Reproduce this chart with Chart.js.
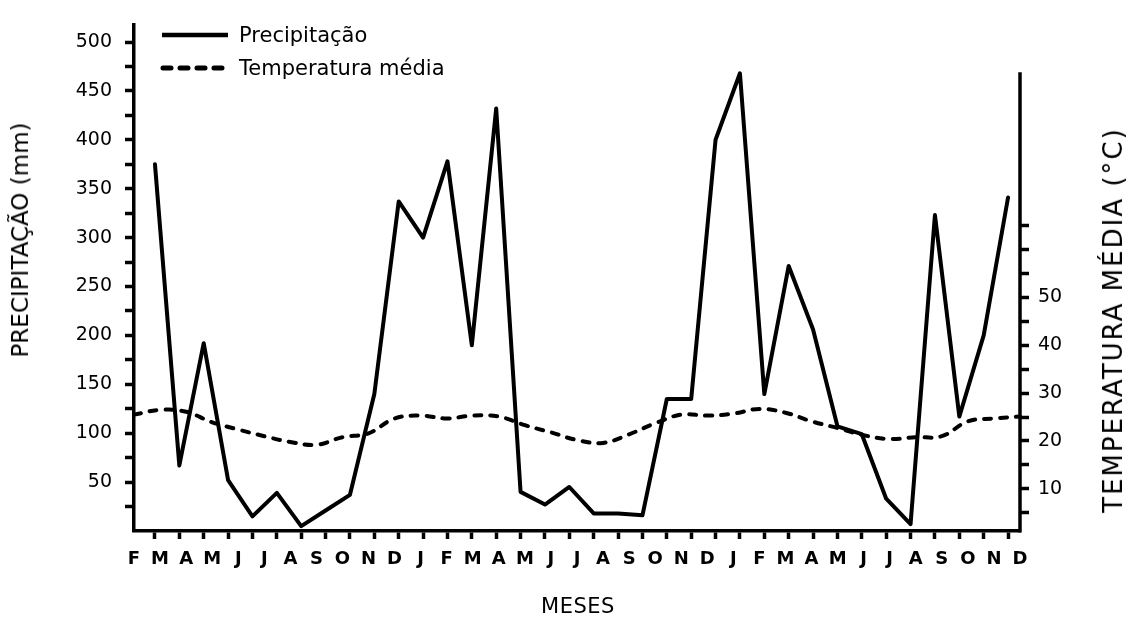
<!DOCTYPE html>
<html lang="pt">
<head>
<meta charset="utf-8">
<title>Precipitação e temperatura média</title>
<script src="https://cdn.jsdelivr.net/npm/chart.js@4.4.1/dist/chart.umd.min.js"></script>
<style>
    html, body { margin: 0; padding: 0; background: #fff; }
    #wrap { position: relative; width: 1128px; height: 617px; font-family: "DejaVu Sans", sans-serif; color: #000; }
    #chart { position: absolute; left: 0; top: 0; }
    .legend { position: absolute; left: 160px; height: 30px; display: flex; align-items: center; font-size: 21px; white-space: nowrap; }
    .legend svg { margin-right: 9px; }
    .ytitle { position: absolute; white-space: nowrap; transform: translate(-50%, -50%) rotate(-90deg); }
    #xtitle { position: absolute; left: 578px; top: 606px; transform: translate(-50%, -50%); font-size: 21px; letter-spacing: 0.5px; }
</style>
</head>
<body>
<div id="wrap">
    <canvas id="chart" width="1128" height="617"></canvas>
    <div class="legend" style="top:20px"><svg width="70" height="10"><line x1="2" y1="5" x2="68" y2="5" stroke="#000" stroke-width="4.5"/></svg><span id="leg0"></span></div>
    <div class="legend" style="top:53px"><svg width="70" height="10"><line x1="3" y1="5" x2="68" y2="5" stroke="#000" stroke-width="5" stroke-dasharray="8 9" stroke-linecap="round"/></svg><span id="leg1"></span></div>
    <div class="ytitle" style="left:20px; top:240px; font-size:23px">PRECIPITAÇÃO (mm)</div>
    <div class="ytitle" style="left:1113px; top:320px; font-size:26px; letter-spacing:2px">TEMPERATURA MÉDIA (°C)</div>
    <div id="xtitle">MESES</div>
</div>
<script>
// meses do eixo x (35 rótulos)
const meses = ["F", "M", "A", "M", "J", "J", "A", "S", "O", "N", "D",
    "J", "F", "M", "A", "M", "J", "J", "A", "S", "O", "N", "D",
    "J", "F", "M", "A", "M", "J", "J", "A", "S", "O", "N", "D"];

// precipitação mensal (mm), uma por marca do eixo (36 marcas)
const precipitacao = [375, 67, 192, 52, 15, 39, 5, 21, 37, 140, 337, 300,
    378, 190, 432, 40, 27, 45, 18, 18, 16, 135, 135, 400,
    468, 140, 271, 206, 107, 99, 33, 7, 323, 117, 200, 341];

// temperatura média (°C), uma por rótulo
const temperatura = [25.5, 26.5, 26.1, 23.9, 22.4, 21.0, 19.8, 19.2, 20.8, 21.6, 24.7,
    25.3, 24.7, 25.3, 25.1, 23.3, 21.8, 20.2, 19.6, 21.4, 23.7, 25.5,
    25.3, 25.7, 26.7, 25.9, 24.1, 22.7, 21.2, 20.4, 20.8, 21.0, 24.1, 24.7, 25.1];

const rotulosPrecipitacao = [50, 100, 150, 200, 250, 300, 350, 400, 450, 500];
const rotulosTemperatura = [10, 20, 30, 40, 50];
const topoEixoTemperatura = 97;

const fonte = { family: "DejaVu Sans", size: 19 };

function marcas(passo, ate) {
    const list = [];
    for (let v = passo; v <= ate; v += passo) list.push({ value: v });
    return list;
}

// linha do eixo direito, mais curta que a área do gráfico
const eixoTemperatura = {
    id: "eixoTemperatura",
    afterDraw(chart) {
        const s = chart.scales.y1;
        const ctx = chart.ctx;
        ctx.save();
        ctx.strokeStyle = "#000";
        ctx.lineWidth = 3.5;
        ctx.beginPath();
        ctx.moveTo(s.left, s.getPixelForValue(topoEixoTemperatura));
        ctx.lineTo(s.left, chart.chartArea.bottom + 1.5);
        ctx.stroke();
        ctx.restore();
    }
};

const chart = new Chart(document.getElementById("chart"), {
    type: "line",
    data: {
        labels: meses,
        datasets: [{
            label: "Precipitação",
            data: precipitacao.map((v, i) => ({ x: i, y: v })),
            xAxisID: "xt",
            yAxisID: "y",
            borderColor: "#000",
            borderWidth: 4,
            borderJoinStyle: "round",
            borderCapStyle: "round",
            pointRadius: 0,
            tension: 0
        }, {
            label: "Temperatura média",
            data: temperatura,
            xAxisID: "x",
            yAxisID: "y1",
            borderColor: "#000",
            borderWidth: 4,
            borderDash: [7, 9],
            borderCapStyle: "round",
            pointRadius: 0,
            tension: 0.4
        }]
    },
    options: {
        responsive: false,
        animation: false,
        layout: { padding: { top: 13, bottom: 0, left: 0, right: 0 } },
        plugins: { legend: { display: false }, tooltip: { enabled: false } },
        scales: {
            xt: {
                type: "linear",
                position: "bottom",
                weight: 0,
                min: -0.86,
                max: 35.49,
                afterBuildTicks: scale => { scale.ticks = precipitacao.map((_, i) => ({ value: i })); },
                ticks: { display: false },
                grid: { drawOnChartArea: false, tickLength: 8, tickWidth: 3.5, color: "#000" },
                border: { color: "#000", width: 3.5 }
            },
            x: {
                type: "category",
                position: "bottom",
                weight: 1,
                offset: false,
                grid: { display: false, drawTicks: false },
                border: { display: false },
                ticks: { color: "#000", font: { family: "DejaVu Sans", size: 18, weight: "bold" }, padding: 10, autoSkip: false, maxRotation: 0 },
                afterFit: s => { s.height = 78; }
            },
            y: {
                position: "left",
                min: 0,
                max: 518,
                afterBuildTicks: scale => { scale.ticks = marcas(25, 500); },
                ticks: {
                    color: "#000",
                    font: fonte,
                    padding: 13,
                    autoSkip: false,
                    callback: v => rotulosPrecipitacao.includes(v) ? String(v) : ""
                },
                grid: { drawOnChartArea: false, tickLength: 9, tickWidth: 3.5, color: "#000" },
                border: { color: "#000", width: 3.5 },
                afterFit: s => { s.width = 134; }
            },
            y1: {
                position: "right",
                min: 1.2,
                max: 107,
                afterBuildTicks: scale => { scale.ticks = marcas(5, 65); },
                ticks: {
                    color: "#000",
                    font: fonte,
                    padding: 9,
                    autoSkip: false,
                    callback: v => rotulosTemperatura.includes(v) ? String(v) : ""
                },
                grid: { drawOnChartArea: false, tickLength: 9, tickWidth: 3.5, color: "#000" },
                border: { display: false },
                afterFit: s => { s.width = 108; }
            }
        }
    },
    plugins: [eixoTemperatura]
});

document.getElementById("leg0").textContent = chart.data.datasets[0].label;
document.getElementById("leg1").textContent = chart.data.datasets[1].label;
</script>
</body>
</html>
